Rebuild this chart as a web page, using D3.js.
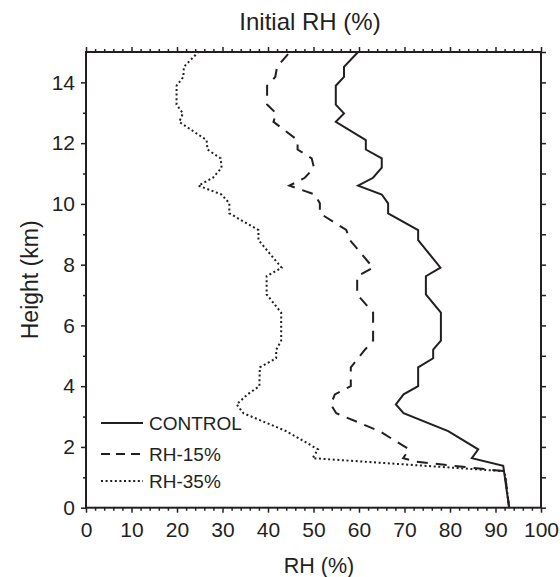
<!DOCTYPE html>
<html><head><meta charset="utf-8">
<script src="https://cdn.jsdelivr.net/npm/d3@7/dist/d3.min.js"></script>
<style>body{margin:0;background:#fff}svg{display:block}</style>
</head><body>
<svg id="c" width="560" height="577"></svg>
<script>
// ---- data ----
const seriesNames = ["CONTROL", "RH-15%", "RH-35%"];
const controlHeight = [0, 1.38, 1.63, 1.92, 2.52, 3.11, 3.40, 3.73, 4.0, 4.62, 4.92, 5.2, 5.5, 6.42, 7.02, 7.62, 7.90, 8.81, 9.14, 9.69, 10.02, 10.31, 10.60, 10.86, 11.19, 11.50, 11.79, 12.10, 12.70, 12.98, 13.27, 13.89, 14.18, 14.51, 15.0];
const controlRH     = [93, 91.7, 84.8, 86.2, 79.6, 69.8, 68.1, 69.8, 73.0, 73.0, 76.3, 76.3, 78.0, 78.0, 74.7, 74.7, 77.9, 73.0, 73.0, 66.4, 66.4, 65.0, 59.8, 63.1, 65.0, 65.0, 61.5, 61.5, 54.9, 56.7, 54.9, 54.9, 56.7, 56.7, 59.8];
const rh15Height = [0, 1.2, 1.51, 1.63, 1.92, 2.52, 3.11, 3.40, 3.73, 4.0, 4.62, 5.2, 5.5, 6.42, 7.02, 7.62, 7.90, 8.81, 9.14, 9.69, 10.02, 10.31, 10.60, 10.86, 11.19, 11.50, 11.79, 12.10, 12.70, 12.98, 13.27, 13.89, 14.18, 14.51, 15.0];
const rh15RH     = [93, 92.0, 72.7, 69.7, 71.0, 64.5, 55.0, 53.8, 54.7, 58.2, 58.2, 61.3, 63.1, 63.1, 59.6, 59.6, 63.1, 58.0, 57.2, 51.4, 51.4, 50.3, 44.7, 48.1, 50.1, 49.6, 46.5, 46.5, 41.2, 41.8, 39.8, 39.8, 41.6, 42.0, 44.8];
const rh35Height = [0, 1.2, 1.63, 1.92, 2.52, 3.11, 3.40, 3.73, 4.0, 4.62, 4.92, 5.2, 5.5, 6.42, 7.02, 7.62, 7.90, 8.81, 9.14, 9.69, 10.02, 10.31, 10.60, 10.86, 11.19, 11.50, 11.79, 12.10, 12.70, 12.98, 13.27, 13.89, 14.18, 14.51, 15.0];
const rh35RH     = [93, 92.0, 49.8, 51.0, 44.0, 34.6, 33.1, 35.5, 38.1, 38.2, 41.8, 41.8, 42.9, 42.9, 39.7, 39.7, 43.0, 37.9, 37.9, 31.5, 31.5, 29.8, 24.7, 27.9, 29.8, 29.6, 26.7, 26.5, 20.5, 21.3, 19.9, 19.9, 21.4, 21.5, 24.7];
const xTicks = [0, 10, 20, 30, 40, 50, 60, 70, 80, 90, 100];
const yTicks = [0, 2, 4, 6, 8, 10, 12, 14];
const titleText = "Initial RH (%)";
const xLabel = "RH (%)";
const yLabel = "Height (km)";

// ---- layout ----
const svg = d3.select("#c");
const L = 86, R = 541, T = 52, B = 507.7;
const FONT = "Arial, 'Liberation Sans', Helvetica, sans-serif";
const INK = "#231f20";
const x = d3.scaleLinear().domain([0, 100]).range([L, R]);
const y = d3.scaleLinear().domain([0, 15]).range([B, T]);

const series = [
  {name: seriesNames[0], h: controlHeight, v: controlRH, dash: null, ldash: null},
  {name: seriesNames[1], h: rh15Height, v: rh15RH, dash: "11,8", ldash: "9,6"},
  {name: seriesNames[2], h: rh35Height, v: rh35RH, dash: "2,2.6", ldash: "2,2.6"}
];

const line = d3.line().x(d => x(d[0])).y(d => y(d[1]));
series.slice().reverse().forEach(s => {
  const pts = s.v.map((v, i) => [v, s.h[i]]);
  svg.append("path").attr("d", line(pts)).attr("fill", "none")
    .attr("stroke", INK).attr("stroke-width", 2)
    .attr("stroke-dasharray", s.dash).attr("stroke-linejoin", "miter");
});

function styleAxis(g) {
  g.select(".domain").remove();
  g.selectAll(".tick line").attr("stroke", INK).attr("stroke-width", 1.5);
  g.selectAll(".tick text").attr("fill", INK).attr("font-family", FONT).attr("font-size", 21);
}
const minorX = d3.range(0, 101, 2).filter(v => v % 10 !== 0);
const minorY = d3.range(1, 15, 2);
const allY = d3.range(0, 16, 1);

// bottom
svg.append("g").attr("transform", `translate(0,${B})`)
  .call(d3.axisBottom(x).tickValues(minorX).tickSize(3).tickFormat("")).call(styleAxis);
svg.append("g").attr("transform", `translate(0,${B})`)
  .call(d3.axisBottom(x).tickValues(xTicks).tickSize(5).tickPadding(9).tickFormat(d3.format("d"))).call(styleAxis);
// top
svg.append("g").attr("transform", `translate(0,${T})`)
  .call(d3.axisTop(x).tickValues(minorX).tickSize(3).tickFormat("")).call(styleAxis);
svg.append("g").attr("transform", `translate(0,${T})`)
  .call(d3.axisTop(x).tickValues(xTicks).tickSize(5).tickFormat("")).call(styleAxis);
// left
svg.append("g").attr("transform", `translate(${L},0)`)
  .call(d3.axisLeft(y).tickValues(minorY).tickSize(3).tickFormat("")).call(styleAxis);
svg.append("g").attr("transform", `translate(${L},0)`)
  .call(d3.axisLeft(y).tickValues(yTicks).tickSize(5).tickPadding(6).tickFormat(d3.format("d"))).call(styleAxis);
// right
svg.append("g").attr("transform", `translate(${R},0)`)
  .call(d3.axisRight(y).tickValues(allY).tickSize(5).tickFormat("")).call(styleAxis);

// frame
svg.append("rect").attr("x", L).attr("y", T).attr("width", R - L).attr("height", B - T)
  .attr("fill", "none").attr("stroke", INK).attr("stroke-width", 2);

// titles
svg.append("text").attr("x", 310).attr("y", 30).attr("text-anchor", "middle")
  .attr("font-family", FONT).attr("font-size", 24).attr("fill", INK).text(titleText);
svg.append("text").attr("x", 319).attr("y", 573).attr("text-anchor", "middle")
  .attr("font-family", FONT).attr("font-size", 21.5).attr("fill", INK).text(xLabel);
svg.append("text").attr("transform", `translate(38,${(T + B) / 2}) rotate(-90)`).attr("text-anchor", "middle")
  .attr("font-family", FONT).attr("font-size", 23).attr("fill", INK).text(yLabel);

// legend
const legY = [423, 454, 481];
series.forEach((s, i) => {
  svg.append("line").attr("x1", 101).attr("x2", 143).attr("y1", legY[i]).attr("y2", legY[i])
    .attr("stroke", INK).attr("stroke-width", 2).attr("stroke-dasharray", s.ldash);
  svg.append("text").attr("x", 149).attr("y", legY[i]).attr("dy", "0.36em")
    .attr("font-family", FONT).attr("font-size", 19).attr("fill", INK).text(s.name);
});
</script>
</body></html>
